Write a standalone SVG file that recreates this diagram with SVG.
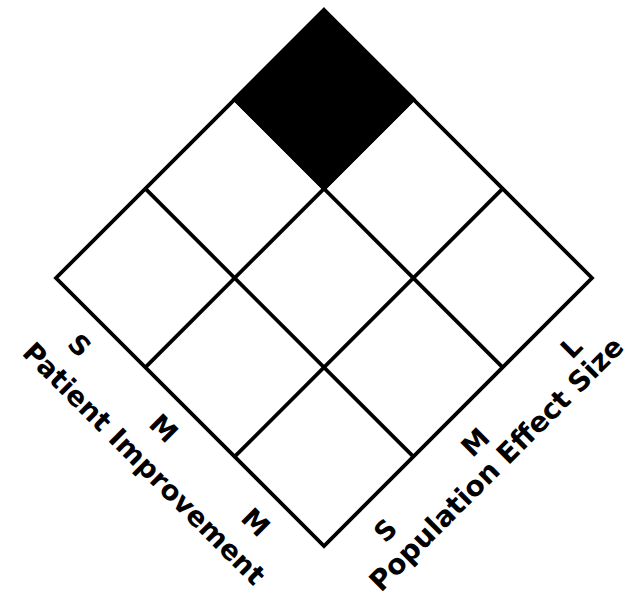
<svg xmlns="http://www.w3.org/2000/svg" width="634" height="598" viewBox="0 0 634 598">
  <style>
    .ln { fill: none; stroke: #000; stroke-width: 3.8; stroke-linejoin: miter; stroke-linecap: butt; }
    .lbl { font-family: "DejaVu Sans", Verdana, sans-serif; font-weight: bold; font-size: 27px; fill: #000; text-anchor: middle; }
    .ttl { font-family: "DejaVu Sans", Verdana, sans-serif; font-weight: bold; fill: #000; text-anchor: start; }
  </style>
  <rect width="634" height="598" fill="#fff"/>
  <g id="grid">
    <polygon id="cell-top" points="324,10 413.33,99.33 324,188.67 234.67,99.33" fill="#000" stroke="#000" stroke-width="3.8"/>
    <polygon class="ln" points="324,10 592,278 324,546 56,278"/>
    <line class="ln" x1="234.67" y1="99.33" x2="502.67" y2="367.33"/>
    <line class="ln" x1="145.33" y1="188.67" x2="413.33" y2="456.67"/>
    <line class="ln" x1="413.33" y1="99.33" x2="145.33" y2="367.33"/>
    <line class="ln" x1="502.67" y1="188.67" x2="234.67" y2="456.67"/>
  </g>
  <g id="axis-left">
    <text class="lbl" transform="translate(80,345) rotate(45)" y="10">S</text>
    <text class="lbl" transform="translate(164,428) rotate(45)" y="10">M</text>
    <text class="lbl" transform="translate(256,522) rotate(45)" y="10">M</text>
    <text class="ttl" font-size="27.5" transform="translate(21,354) rotate(45)">Patient Improvement</text>
  </g>
  <g id="axis-right">
    <text class="lbl" transform="translate(385,530) rotate(-45)" y="10">S</text>
    <text class="lbl" transform="translate(475,442) rotate(-45)" y="10">M</text>
    <text class="lbl" transform="translate(571,347) rotate(-45)" y="10">L</text>
    <text class="ttl" font-size="28" transform="translate(381,593) rotate(-45)">Population Effect Size</text>
  </g>
</svg>
